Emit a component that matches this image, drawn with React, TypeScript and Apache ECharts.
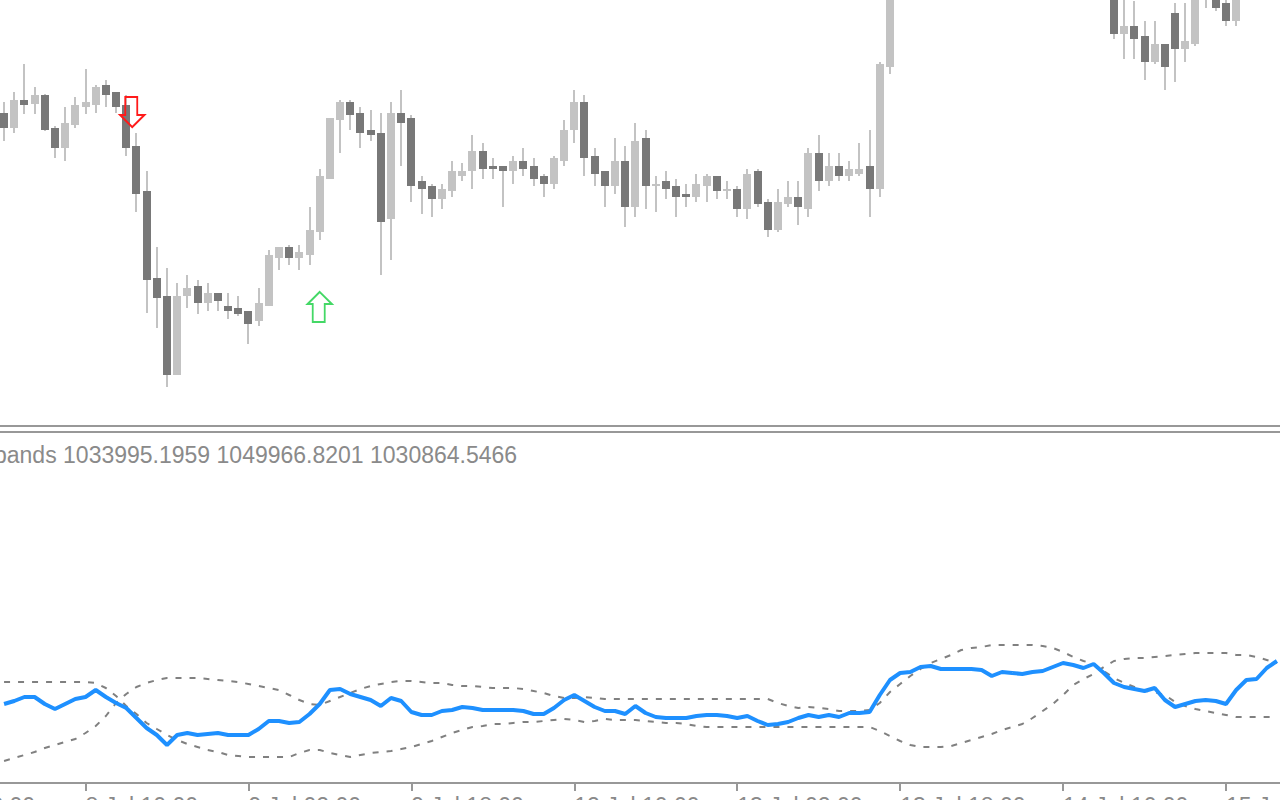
import React, { useEffect, useRef } from 'react';
import * as echarts from 'echarts';

// ---- price candles (visible window, one hourly bar each) ----
const openP = [887,872,900,896,905,872,852,875,893,895,915,908,895,854,809,722,704,625,704,714,697,707,694,692,689,679,694,742,753,742,745,768,821,880,898,887,870,867,781,887,882,819,814,801,809,824,829,849,834,834,829,839,834,824,816,839,870,898,844,829,814,839,793,862,814,819,814,806,803,814,824,809,811,791,829,798,770,796,803,791,847,819,834,824,826,834,811,933,1040,1048,1052,1062,1065,1058,1060,1057,1059,1055,1040,1050,1047,1044,1049,1052,1060,1068,1064,1057,1066,1045,966,974,964,938,956,987,951,956,1010,1015,997,979,1015,1030,1028,1050];
const highP = [898,908,936,913,906,874,893,903,931,915,920,908,905,867,829,753,732,717,725,720,717,707,707,704,689,712,750,753,755,755,793,831,882,900,900,893,890,887,898,910,885,824,816,816,839,837,865,857,842,834,844,852,842,826,844,880,910,905,852,829,862,854,877,870,824,829,821,816,826,826,824,819,814,831,831,801,811,819,819,852,865,847,847,839,857,870,938,1055,1062,1060,1070,1074,1070,1068,1066,1067,1064,1058,1056,1058,1053,1056,1059,1066,1075,1072,1068,1072,1070,1052,1008,999,979,979,956,997,997,1018,1032,1020,1005,1022,1038,1040,1058,1075];
const lowP = [859,867,886,886,869,842,839,872,886,887,893,887,844,788,687,672,613,625,692,686,689,689,681,684,656,674,694,730,735,730,735,760,821,847,870,852,859,725,740,834,798,786,783,791,803,819,811,821,821,793,816,824,814,803,811,834,857,824,814,793,806,773,783,791,788,801,783,793,798,798,801,801,783,781,793,763,768,793,775,783,809,814,819,819,824,783,803,926,1028,1035,1044,1050,1049,1047,1046,1049,1044,1030,1032,1039,1035,1038,1041,1046,1054,1056,1048,1050,1040,961,941,941,920,936,910,918,938,954,992,989,974,974,1008,1015,1020,1042];
const closeP = [872,900,895,905,870,852,877,895,898,913,905,893,852,806,720,702,625,704,712,697,707,699,689,686,676,697,745,753,742,748,770,824,882,898,885,867,865,778,887,877,814,811,801,811,829,829,849,831,831,829,839,831,821,816,842,870,898,842,826,814,839,793,859,814,816,811,803,803,816,824,809,811,791,826,796,770,798,803,793,847,819,834,824,831,831,811,936,1040,1048,1052,1062,1065,1058,1060,1057,1059,1055,1040,1050,1047,1044,1049,1052,1060,1068,1064,1057,1066,1045,966,974,961,938,956,933,951,959,1010,1025,992,979,1015,1030,1028,1050,1068];

// ---- indicator panel ----
const mainLine = [96,99,103,103,96,91,96,101,103,110,103,97,92,82,72,65,55,65,67,65,66,67,65,65,65,71,79,79,77,78,86,96,110,111,106,103,100,94,102,99,88,85,85,89,90,93,92,90,90,90,90,89,86,86,92,100,105,99,93,89,89,86,94,87,83,82,82,82,84,85,85,84,82,84,79,75,76,78,82,85,83,85,83,87,87,88,105,120,127,128,133,134,131,131,131,131,130,124,128,127,126,128,129,133,137,135,132,136,127,117,113,111,109,112,100,93,96,99,100,99,96,110,120,121,132,139];
const band1 = [118,118,118,118,118,118,118,118,118,117,112,104,94,86,77,71,65,60,56,53,50,48,45,44,43,43,43,43,43,47,50,50,47,45,43,45,47,48,49,51,53,56,59,63,67,70,73,74,76,76,77,78,78,79,80,81,80,78,79,81,80,80,80,79,78,77,77,76,74,73,73,73,73,73,73,73,73,73,73,73,73,73,73,73,73,73,69,64,59,55,53,53,53,54,57,60,63,66,70,73,76,82,89,96,105,115,121,126,133,139,141,142,142,143,144,145,146,147,147,147,147,145,145,143,140,137];
const band2 = [39,42,45,48,52,55,58,61,67,74,84,97,106,113,117,120,122,122,122,122,121,120,119,118,116,114,112,110,105,100,96,95,99,103,107,111,114,116,118,119,119,118,117,117,115,114,114,113,112,112,112,111,109,107,104,102,102,103,102,101,101,101,101,101,101,101,101,101,101,101,101,101,101,101,101,101,97,94,92,93,92,91,89,89,89,90,97,108,116,124,131,137,141,145,150,152,153,155,155,155,155,155,154,152,148,143,139,136,129,122,117,113,109,108,105,98,94,91,89,87,85,83,83,83,83,83];

// ---- time axis ----
const tickLabels = ['7 Jul 18:00', '8 Jul 10:00', '9 Jul 02:00', '9 Jul 18:00', '12 Jul 10:00', '13 Jul 02:00', '13 Jul 18:00', '14 Jul 10:00', '15 Jul 02:00'];
const LEAD = 8; // bars before the visible window (not drawn)
const BARS_PER_TICK = 16;

// ---- signals ----
const sellSignals = [[12, 888]];
const buySignals = [[31, 693]];

const indicatorLabel = 'bands 1033995.1959 1049966.8201 1030864.5466';

const BULL = '#c3c3c3';
const BEAR = '#787878';
const WICK = '#c3c3c3';
const FRAME = '#989898';
const TEXT = '#8a8a8a';
const FONT = '"Liberation Sans", Arial, sans-serif';

export default function App() {
  const ref = useRef<HTMLDivElement>(null);

  useEffect(() => {
    if (!ref.current) return;
    const chart = echarts.init(ref.current, undefined, { renderer: 'svg' });
    const total = LEAD + openP.length;
    const categories = Array.from({ length: total }, (_, k) => String(k - LEAD));
    const pad = (arr: number[]) => (Array(LEAD).fill('-') as any[]).concat(arr);
    const candleData = openP.map((o, i) => [i + LEAD, o, closeP[i], lowP[i], highP[i]]);
    const isTick = (idx: number) => idx % BARS_PER_TICK === 0;

    const option: any = {
      animation: false,
      backgroundColor: '#ffffff',
      grid: [
        { left: -82.5, right: -2, top: 0, height: 426, containLabel: false, outerBoundsMode: 'none' },
        { left: -82.5, right: -2, top: 437, bottom: 17, containLabel: false, outerBoundsMode: 'none' },
      ],
      xAxis: [
        { type: 'category', gridIndex: 0, data: categories, show: false, boundaryGap: true },
        {
          type: 'category', gridIndex: 1, data: categories, boundaryGap: true,
          axisLine: { show: true, lineStyle: { color: FRAME, width: 2 } },
          axisTick: { show: true, alignWithLabel: true, interval: (i: number) => isTick(i), length: 8, lineStyle: { color: FRAME, width: 2 } },
          axisLabel: {
            show: true, interval: (i: number) => isTick(i), hideOverlap: false,
            formatter: (_v: string, i: number) => (isTick(i) ? tickLabels[i / BARS_PER_TICK] ?? '' : ''),
            align: 'left', verticalAlign: 'top', margin: 11,
            color: TEXT, fontSize: 23, fontFamily: FONT,
          },
          splitLine: { show: false },
        },
      ],
      yAxis: [
        { type: 'value', gridIndex: 0, min: 574, max: 1000, show: false },
        { type: 'value', gridIndex: 1, min: 17, max: 363, show: false },
      ],
      series: [
        {
          type: 'custom', xAxisIndex: 0, yAxisIndex: 0, clip: true,
          data: candleData,
          encode: { x: 0, y: [1, 2, 3, 4] },
          renderItem: (_p: any, api: any) => {
            const idx = api.value(0);
            const o = api.value(1), c = api.value(2), l = api.value(3), h = api.value(4);
            const pO = api.coord([idx, o]);
            const pC = api.coord([idx, c]);
            const pL = api.coord([idx, l]);
            const pH = api.coord([idx, h]);
            const bw = api.size([1, 0])[0];
            const w = Math.round(bw * 0.78);
            const x = Math.round(pO[0]);
            const top = Math.min(pO[1], pC[1]);
            const bot = Math.max(pO[1], pC[1]);
            return {
              type: 'group',
              children: [
                { type: 'line', shape: { x1: x, y1: pH[1], x2: x, y2: pL[1] }, style: { stroke: WICK, lineWidth: 2 } },
                { type: 'rect', shape: { x: x - w / 2, y: top, width: w, height: Math.max(bot - top, 2) }, style: { fill: c >= o ? BULL : BEAR } },
              ],
            };
          },
          z: 2,
        },
        {
          type: 'scatter', xAxisIndex: 0, yAxisIndex: 0,
          data: sellSignals.map(([b, p]) => [b + LEAD, p]),
          symbol: 'path://M5,0L17,0L17,18L24,18L12,30L0,18L5,18Z',
          symbolSize: [24, 30], symbolOffset: [6, 0],
          itemStyle: { color: 'rgba(255,255,255,0)', borderColor: '#ff1a1a', borderWidth: 2, opacity: 1 },
          z: 5,
        },
        {
          type: 'scatter', xAxisIndex: 0, yAxisIndex: 0,
          data: buySignals.map(([b, p]) => [b + LEAD, p]),
          symbol: 'path://M12,0L24,12L17,12L17,30L5,30L5,12L0,12Z',
          symbolSize: [24, 30],
          itemStyle: { color: 'rgba(255,255,255,0)', borderColor: '#44d866', borderWidth: 2, opacity: 1 },
          z: 5,
        },
        {
          type: 'line', xAxisIndex: 1, yAxisIndex: 1, data: pad(band1),
          symbol: 'none', showSymbol: false, smooth: false,
          lineStyle: { color: '#808080', width: 2, type: [6, 8] }, z: 2,
        },
        {
          type: 'line', xAxisIndex: 1, yAxisIndex: 1, data: pad(band2),
          symbol: 'none', showSymbol: false, smooth: false,
          lineStyle: { color: '#808080', width: 2, type: [6, 8] }, z: 2,
        },
        {
          type: 'line', xAxisIndex: 1, yAxisIndex: 1, data: pad(mainLine),
          symbol: 'none', showSymbol: false, smooth: false,
          lineStyle: { color: '#1e90ff', width: 4 }, z: 3,
        },
      ],
      graphic: [
        { type: 'line', shape: { x1: 0, y1: 426, x2: 1280, y2: 426 }, style: { stroke: FRAME, lineWidth: 2 }, silent: true },
        { type: 'line', shape: { x1: 0, y1: 432, x2: 1280, y2: 432 }, style: { stroke: FRAME, lineWidth: 2 }, silent: true },
        {
          type: 'text', x: -6, y: 455, silent: true,
          style: { text: indicatorLabel, fill: TEXT, fontSize: 23, fontFamily: FONT, align: 'left', verticalAlign: 'middle', textAlign: 'left', textVerticalAlign: 'middle' },
        },
      ],
    };
    chart.setOption(option);
    return () => chart.dispose();
  }, []);

  return <div ref={ref} style={{ position: 'fixed', left: 0, top: 0, width: 1280, height: 800, background: '#ffffff' }} />;
}
